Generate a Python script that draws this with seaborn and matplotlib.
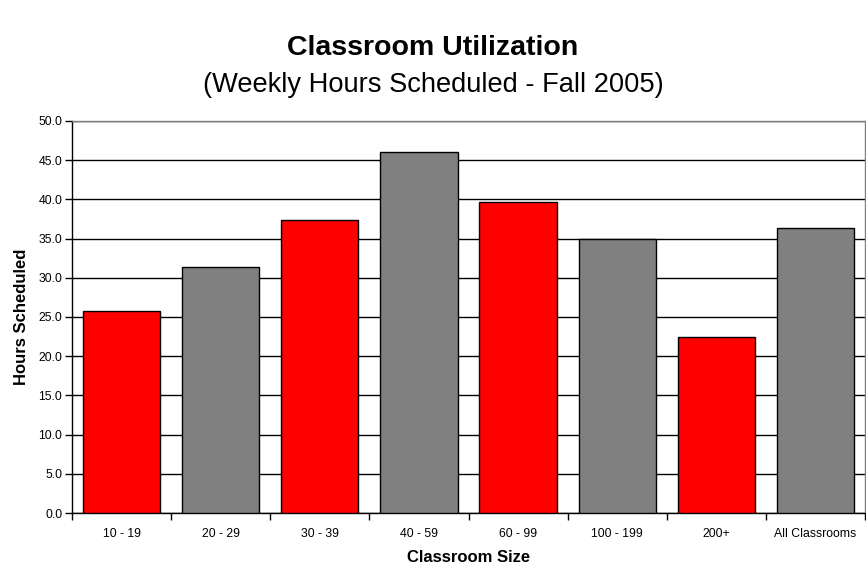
import numpy as np
import pandas as pd
import seaborn as sns
import matplotlib.pyplot as plt
from matplotlib.ticker import FormatStrFormatter

sizes = ['10 - 19', '20 - 29', '30 - 39', '40 - 59', '60 - 99', '100 - 199', '200+', 'All Classrooms']
hours = [25.8, 31.4, 37.4, 46.1, 39.7, 34.9, 22.5, 36.4]
bar_colors = ['#FF0000', '#808080', '#FF0000', '#808080', '#FF0000', '#808080', '#FF0000', '#808080']

df = pd.DataFrame({'size': sizes, 'hours': hours})

sns.set_style('white')
plt.rcParams['font.family'] = ['Liberation Sans', 'DejaVu Sans']
plt.rcParams['text.color'] = 'black'
plt.rcParams['axes.labelcolor'] = 'black'
plt.rcParams['xtick.color'] = 'black'
plt.rcParams['ytick.color'] = 'black'

fig = plt.figure(figsize=(8.66, 5.69), dpi=100)
ax = fig.add_axes([0.0831, 0.0984, 0.9158, 0.689])

sns.barplot(data=df, x='size', y='hours', hue='size', palette=bar_colors, legend=False,
            width=0.78, edgecolor='black', linewidth=1.0, saturation=1, ax=ax, zorder=3)

ax.set_ylim(0, 50)
ax.set_xlim(-0.5, len(sizes) - 0.5)
ax.set_yticks(np.arange(0, 50.1, 5))
ax.yaxis.set_major_formatter(FormatStrFormatter('%.1f'))
ax.yaxis.grid(True, color='black', linewidth=1.0, zorder=0)
ax.set_axisbelow(True)

# category boundaries get the tick marks, centres get the labels
ax.set_xticks(np.arange(-0.5, len(sizes), 1))
ax.set_xticklabels([])
ax.set_xticks(np.arange(len(sizes)), minor=True)
ax.set_xticklabels(sizes, minor=True, fontsize=8.8)
ax.tick_params(axis='x', which='major', direction='out', length=5, width=1, color='black', bottom=True)
ax.tick_params(axis='x', which='minor', length=0, pad=11)
ax.tick_params(axis='y', direction='out', length=5, width=1, color='black', left=True, labelsize=8.8, pad=2)

for s in ['left', 'bottom']:
    ax.spines[s].set_color('black')
    ax.spines[s].set_linewidth(1.0)
for s in ['top', 'right']:
    ax.spines[s].set_color('#808080')
    ax.spines[s].set_linewidth(1.0)

ax.set_xlabel('Classroom Size', fontsize=12, fontweight='bold', labelpad=7)
ax.set_ylabel('Hours Scheduled', fontsize=12, fontweight='bold', labelpad=7)

fig.text(0.5, 0.915, 'Classroom Utilization', ha='center', va='center', fontsize=20.5, fontweight='bold')
fig.text(0.5, 0.85, '(Weekly Hours Scheduled - Fall 2005)', ha='center', va='center', fontsize=19.6)

fig.savefig('out.png', dpi=100)
